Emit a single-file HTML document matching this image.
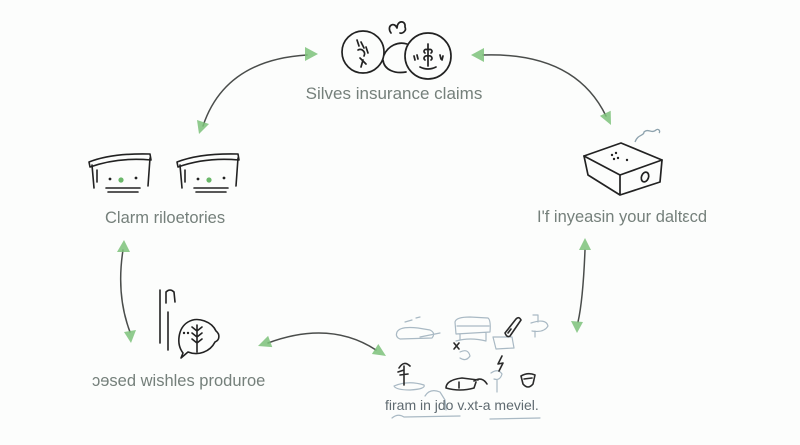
<!DOCTYPE html>
<html>
<head>
<meta charset="utf-8">
<style>
html,body{margin:0;padding:0;background:#fcfdfc;}
svg{display:block;}
.lbl{font-family:"Liberation Sans",sans-serif;fill:#75807b;}
</style>
</head>
<body>
<svg width="800" height="445" viewBox="0 0 800 445" xmlns="http://www.w3.org/2000/svg">
<rect width="800" height="445" fill="#fcfdfc"/>

<!-- connectors -->
<g fill="none" stroke="#4a4d4b" stroke-width="1.5" stroke-linecap="round">
  <path d="M203,126 Q225,60 307,55"/>
  <path d="M483,55 Q575,52 606,116"/>
  <path d="M268,343 Q330,320 376,350"/>
  <path d="M585,250 Q583,300 578,322"/>
  <path d="M123,250 Q116,295 130,332"/>
</g>
<g fill="#7cc27a" opacity="0.85">
  <polygon points="318,54 305,47 305,61"/>
  <polygon points="199,134 209,124 197,120"/>
  <polygon points="471,55 484,48 484,62"/>
  <polygon points="611,125 610.7,110.7 599.9,115.9"/>
  <polygon points="258,346 272.3,347.1 268.1,335.9"/>
  <polygon points="386,356 371.9,354 378.3,344"/>
  <polygon points="585,238 579,250 591,250"/>
  <polygon points="577,333 571,321 583,322"/>
  <polygon points="124,240 117,252 130,252"/>
  <polygon points="131,343 124,332 136,330"/>
</g>

<!-- top icon -->
<g fill="none" stroke="#222" stroke-width="1.7" stroke-linecap="round" stroke-linejoin="round">
  <circle cx="363" cy="52" r="21"/>
  <path d="M384,55 C388,46 398,41 407,44"/>
  <path d="M383,60 C384,70 395,74 406,72"/>
  <circle cx="428" cy="56" r="23"/>
  <path d="M391,33 C386,26 394,21 397,28 C397,20 406,20 405,27 C407,31 402,34 400,33"/>
  <path d="M357,40 L359,46 M361,42 L364,48 M358,50 C362,48 366,52 364,56 M360,58 L366,64 M363,60 L361,67 M366,47 L368,53"/>
  <path d="M428,44 L428,66 M428,50 C424,48 423,52 425,53 M428,50 C432,48 433,52 431,53 M428,56 C424,55 423,59 425,60 M428,56 C432,55 433,59 431,60 M420,67 Q428,71 436,67 M414,56 L415,60 M417,55 L418,59 M440,55 L441,59 M443,56 L442,60"/>
</g>
<text class="lbl" x="394" y="99" font-size="17" text-anchor="middle">Silves insurance claims</text>

<!-- left buckets -->
<g fill="none" stroke="#222" stroke-width="1.6" stroke-linecap="round" stroke-linejoin="round">
  <path d="M89,162 Q112,153 150,154 L151,160 Q118,157 90,167 Z"/>
  <path d="M92,165 L94,188 M97,170 L97,182 M150,158 L148,186"/>
  <path d="M106,188 L140,188 M108,192 L138,192"/>
  <path d="M177,162 Q200,153 238,154 L239,160 Q206,157 178,167 Z"/>
  <path d="M180,165 L182,188 M185,170 L185,182 M238,158 L236,186"/>
  <path d="M194,188 L228,188 M196,192 L226,192"/>
</g>
<g fill="#222">
  <circle cx="110" cy="179" r="1.4"/><circle cx="136" cy="178" r="1.4"/>
  <circle cx="198" cy="179" r="1.4"/><circle cx="224" cy="178" r="1.4"/>
</g>
<g fill="#6bb86a">
  <circle cx="121" cy="180" r="2.6"/><circle cx="209" cy="180" r="2.6"/>
</g>
<text class="lbl" x="105" y="223" font-size="16.5">Clarm riloetories</text>

<!-- right box -->
<g fill="none" stroke="#222" stroke-width="1.7" stroke-linejoin="round" stroke-linecap="round">
  <path d="M584,156 L621,143 L662,160 L620,175 Z"/>
  <path d="M584,156 L588,175 L620,195 L660,182 L662,160 M620,175 L620,195"/>
  <ellipse cx="645" cy="177" rx="3.5" ry="5" transform="rotate(20 645 177)"/>
</g>
<g fill="#222">
  <circle cx="612" cy="155" r="1.2"/><circle cx="616" cy="153" r="1.2"/><circle cx="618" cy="158" r="1.2"/><circle cx="627" cy="160" r="1.2"/><circle cx="614" cy="159" r="1.2"/>
</g>
<path d="M635,142 C638,134 644,136 644,132 C648,128 652,134 656,130 C658,128 661,131 659,133" fill="none" stroke="#8da2ad" stroke-width="1.3"/>
<text class="lbl" x="537" y="222" font-size="16.5">I'f inyeasin your daltεcd</text>

<!-- bottom-left icon -->
<g fill="none" stroke="#222" stroke-width="1.6" stroke-linecap="round" stroke-linejoin="round">
  <path d="M160,290 L160,343"/>
  <path d="M166,303 L166,292 Q170,288 174,292 L175,302"/>
  <path d="M168,312 L168,350"/>
  <path d="M183,353 C176,344 178,328 188,322 C198,316 212,322 216,331 C220,334 220,340 215,342 C210,352 198,356 188,352 L181,358 Z"/>
  <path d="M197,325 L197,352 M197,331 L192,327 M197,331 L202,327 M197,337 L192,333 M197,337 L202,333 M197,343 L192,339 M197,343 L202,339"/>
</g>
<g fill="#222"><circle cx="184" cy="333" r="1.2"/><circle cx="188" cy="333" r="1.2"/></g>
<text class="lbl" x="92" y="386" font-size="16.5">ɔɘsed wishles produroe</text>

<!-- bottom center sketches -->
<g fill="none" stroke="#a9b9c4" stroke-width="1.2" stroke-linecap="round" stroke-linejoin="round">
  <path d="M397,332 Q400,326 418,328 L430,330 Q436,333 432,338 L400,339 Q395,337 397,332 Z"/>
  <path d="M420,337 L440,333 M405,322 L412,320 M416,318 L420,317"/>
  <path d="M455,322 Q456,317 470,317 L488,318 Q491,320 490,332 L456,334 Z M457,326 L489,326 M460,334 L460,340 M486,333 L486,340"/>
  <path d="M456,341 Q470,337 486,341"/>
  <path d="M493,337 L512,337 L514,348 L496,349 Z"/>
  <path d="M533,315 L538,315 L538,322 M531,323 Q546,318 548,326 Q544,333 532,331 M535,331 L535,337"/>
  <path d="M460,352 Q468,348 470,356 Q466,362 460,358"/>
  <path d="M491,373 Q498,368 502,374 Q500,381 494,379 M497,380 L497,392"/>
  <path d="M394,386 Q408,380 424,385 Q426,389 410,390 Q396,390 394,386 Z"/>
  <path d="M425,396 Q430,388 440,392 L445,400 L446,410"/>
  <path d="M392,418 Q398,413 404,417 L460,416"/>
  <path d="M490,419 L540,418"/>
</g>
<g fill="none" stroke="#2a2a2a" stroke-width="1.6" stroke-linecap="round" stroke-linejoin="round">
  <path d="M505,333 L516,319 Q519,316 521,320 L510,336 Q507,338 505,333 Z M508,333 L511,329"/>
  <path d="M454,343 L459,349 M459,343 L454,349"/>
  <path d="M502,356 L498,364 L503,363 L499,371"/>
  <path d="M404,366 L404,385 M399,368 Q404,360 410,366 M398,372 L404,370 M400,375 L408,374"/>
  <path d="M446,388 Q446,380 462,378 L478,380 M446,388 Q460,392 474,388 L476,382 M459,382 L459,388 M474,381 Q482,376 487,384"/>
  <path d="M521,376 Q528,372 535,375 L533,384 Q528,390 523,384 Z M524,379 L532,378"/>
</g>
<text x="385" y="410" font-size="14" font-family="Liberation Sans, sans-serif" fill="#5f6a70">firam in jdo v.xt-a meviel.</text>
</svg>
</body>
</html>
